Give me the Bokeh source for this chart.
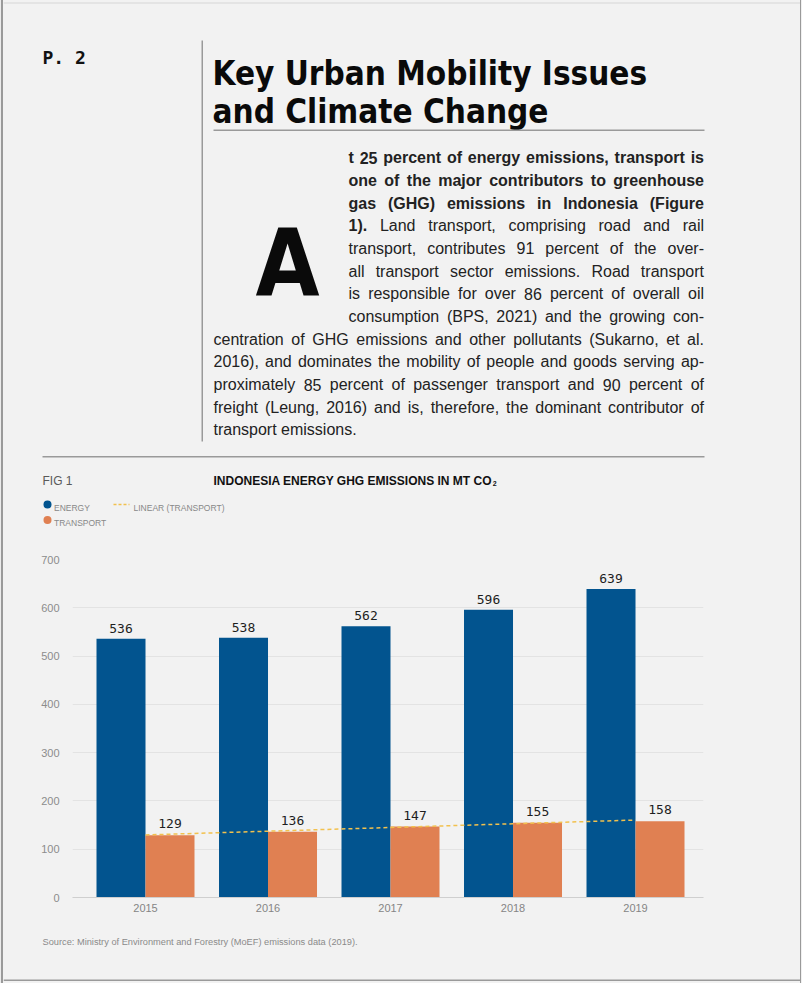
import numpy as np
from bokeh.plotting import figure
from bokeh.models import (ColumnDataSource, Label, LabelSet, BoxAnnotation, Range1d,
                          FixedTicker, Spacer)
from bokeh.layouts import column, row
from bokeh.transform import dodge
from bokeh.core.properties import value
from bokeh.embed import file_html
from bokeh.resources import INLINE

# ---------------- data ----------------
years = ["2015", "2016", "2017", "2018", "2019"]
energy = [536, 538, 562, 596, 639]
transport = [129, 136, 147, 155, 158]
y_ticks = [0, 100, 200, 300, 400, 500, 600, 700]

page_label = "P. 2"
title_lines = ["Key Urban Mobility Issues", "and Climate Change"]
drop_cap = "A"
para_lines = [
    [("t 25 percent of energy emissions, transport is", True)],
    [("one of the major contributors to greenhouse", True)],
    [("gas (GHG) emissions in Indonesia (Figure", True)],
    [("1).", True), ("Land transport, comprising road and rail", False)],
    [("transport, contributes 91 percent of the over-", False)],
    [("all transport sector emissions. Road transport", False)],
    [("is responsible for over 86 percent of overall oil", False)],
    [("consumption (BPS, 2021) and the growing con-", False)],
    [("centration of GHG emissions and other pollutants (Sukarno, et al.", False)],
    [("2016), and dominates the mobility of people and goods serving ap-", False)],
    [("proximately 85 percent of passenger transport and 90 percent of", False)],
    [("freight (Leung, 2016) and is, therefore, the dominant contributor of", False)],
    [("transport emissions.", False)],
]
fig_label = "FIG 1"
chart_title = "INDONESIA ENERGY GHG EMISSIONS IN MT CO"
chart_title_sub = "2"
legend_labels = ["ENERGY", "TRANSPORT", "LINEAR (TRANSPORT)"]
source_text = "Source: Ministry of Environment and Forestry (MoEF) emissions data (2019)."

# ---------------- style ----------------
BG = "#f2f2f2"
BLUE = "#02548f"
ORANGE = "#e08052"
YELLOW = "#f2c14e"
EDGE = "#9a9a9a"
SANS = "Liberation Sans"
MONO = "DejaVu Sans Mono"
DISPLAY = "DejaVu Sans Condensed"
TEXT = "#1e1e1e"

PAGE_W, PAGE_H = 802, 983
LEFT_EDGE, RIGHT_EDGE = 3, 2
INNER_W = PAGE_W - LEFT_EDGE - RIGHT_EDGE
X0, X1 = LEFT_EDGE, PAGE_W - RIGHT_EDGE
HEAD_H, CHART_TOP, CHART_BOT = 540, 540, 925

# Arial / Liberation Sans advance widths (1/1000 em)
REG = {' ': 278, '!': 278, '(': 333, ')': 333, ',': 278, '-': 333, '.': 278, ':': 278}
BOLD = {' ': 278, '!': 333, '(': 333, ')': 333, ',': 278, '-': 333, '.': 278, ':': 333}
for d in "0123456789":
    REG[d] = 556
    BOLD[d] = 556
REG.update(dict(zip("ABCDEFGHIJKLMNOPQRSTUVWXYZ",
                    [667, 667, 722, 722, 667, 611, 778, 722, 278, 500, 667, 556, 833, 722, 778, 667, 778, 722, 667, 611, 722, 667, 944, 667, 667, 611])))
REG.update(dict(zip("abcdefghijklmnopqrstuvwxyz",
                    [556, 556, 500, 556, 556, 278, 556, 556, 222, 222, 500, 222, 833, 556, 556, 556, 556, 333, 500, 278, 556, 500, 722, 500, 500, 500])))
BOLD.update(dict(zip("ABCDEFGHIJKLMNOPQRSTUVWXYZ",
                     [722, 722, 722, 722, 667, 611, 778, 722, 278, 556, 722, 611, 833, 722, 778, 667, 778, 722, 667, 611, 722, 667, 944, 667, 667, 611])))
BOLD.update(dict(zip("abcdefghijklmnopqrstuvwxyz",
                     [556, 611, 556, 611, 556, 333, 611, 611, 278, 278, 556, 278, 889, 611, 611, 611, 611, 389, 556, 333, 611, 556, 778, 556, 556, 500])))


def em_width(s, bold=False):
    t = BOLD if bold else REG
    return sum(t.get(c, 556) for c in s) / 1000.0


def page_fig(y_top, y_bot):
    f = figure(width=INNER_W, height=y_bot - y_top, output_backend="svg", toolbar_location=None,
               x_range=Range1d(X0, X1), y_range=Range1d(y_bot, y_top),
               x_axis_type=None, y_axis_type=None, min_border=0, frame_align=False,
               background_fill_color=BG, border_fill_color=BG, outline_line_color=None)
    f.xgrid.visible = False
    f.ygrid.visible = False
    return f


def label(f, px, py, text, font=SANS, size=12, bold=False, color=TEXT, align="left"):
    f.add_layout(Label(x=px, y=py, text=text, text_font=font, text_font_size=f"{size}px",
                       text_font_style="bold" if bold else "normal",
                       text_color=color, text_align=align, text_baseline="alphabetic"))


def rule(f, x0, x1, y0, y1, color=EDGE):
    f.add_layout(BoxAnnotation(left=x0, right=x1, top=y0, bottom=y1,
                               fill_color=color, fill_alpha=1.0, line_color=None))


# ================= header =================
head = page_fig(0, HEAD_H)
rule(head, X0, X1, 2, 3, color="#d6d6d6")
label(head, 42, 56.7, page_label, font=MONO, size=18, bold=True, color="#111111")
rule(head, 201, 202.5, 40, 441)
label(head, 212, 73, title_lines[0], font=DISPLAY, size=33, bold=True, color="#0a0a0a")
label(head, 212, 110.5, title_lines[1], font=DISPLAY, size=33, bold=True, color="#0a0a0a")
rule(head, 213, 704, 129, 130.5)
label(head, 255, 263, drop_cap, font=DISPLAY, size=92, bold=True, color="#0a0a0a")

# justified paragraph
INDENT_L, FULL_L, RIGHT = 348, 213, 703.5
BASE0, STEP = 157.3, 22.67
N_INDENT = 8

line_words = []
for segs in para_lines:
    words = []
    for txt, b in segs:
        for w in txt.split(" "):
            words.append((w, b))
    line_words.append(words)

fs = 16.0
for li, words in enumerate(line_words[:-1]):
    left = INDENT_L if li < N_INDENT else FULL_L
    nat = sum(em_width(w, b) for w, b in words) + (len(words) - 1) * 0.278
    fs = min(fs, (RIGHT - left) / nat * 0.995)

for li, words in enumerate(line_words):
    left = INDENT_L if li < N_INDENT else FULL_L
    base = BASE0 + li * STEP
    widths = [em_width(w, b) * fs for w, b in words]
    if li < len(line_words) - 1 and len(words) > 1:
        gap = (RIGHT - left - sum(widths)) / (len(words) - 1)
    else:
        gap = 0.278 * fs
    x = left
    for (w, b), wd in zip(words, widths):
        label(head, x, base, w, size=round(fs, 2), bold=b, color="#222222")
        x += wd + gap

# figure header + legend
rule(head, 42, 704, 455.5, 457)
label(head, 42, 480, fig_label, size=12, color="#5a5a5a")
label(head, 213, 480, chart_title, size=12, bold=True, color="#111111")
label(head, 213 + em_width(chart_title, True) * 12 + 0.5, 483, chart_title_sub, size=7, bold=True, color="#111111")

head.scatter(x=[47], y=[504], size=8, fill_color=BLUE, line_color=None)
head.scatter(x=[47], y=[519.5], size=8, fill_color=ORANGE, line_color=None)
head.line(x=[113, 129], y=[504, 504], line_color=YELLOW, line_dash="3 2", line_width=1.5)
label(head, 53.5, 507, legend_labels[0], size=8.5, color="#888888")
label(head, 53.5, 522.5, legend_labels[1], size=8.5, color="#888888")
label(head, 133, 507, legend_labels[2], size=8.5, color="#888888")

# ================= chart =================
idx = list(range(len(years)))
src = ColumnDataSource(dict(
    i=idx, energy=energy, transport=transport,
    energy_txt=[str(v) for v in energy], transport_txt=[str(v) for v in transport],
))

FRAME_L, FRAME_R, FRAME_T, FRAME_B = 72, 703, 559, 897
p = figure(width=INNER_W, height=CHART_BOT - CHART_TOP, output_backend="svg", toolbar_location=None,
           x_range=Range1d(-0.596, 4.555), y_range=Range1d(0, 700), frame_align=False,
           min_border_left=FRAME_L - X0, min_border_right=X1 - FRAME_R,
           min_border_top=FRAME_T - CHART_TOP, min_border_bottom=CHART_BOT - FRAME_B,
           background_fill_color=BG, border_fill_color=BG, outline_line_color=None)

p.vbar(x=dodge("i", -0.2, range=p.x_range), top="energy", width=0.4, bottom=0,
       fill_color=BLUE, line_color=None, source=src)
p.vbar(x=dodge("i", 0.2, range=p.x_range), top="transport", width=0.4, bottom=0,
       fill_color=ORANGE, line_color=None, source=src)

coef = np.polyfit(idx, transport, 1)
trend = np.polyval(coef, idx)
p.line(idx, trend, line_color=YELLOW, line_dash="4 3", line_width=1.5)

p.add_layout(LabelSet(x=dodge("i", -0.2, range=p.x_range), y="energy", text="energy_txt", source=src,
                      y_offset=6, text_align="center", text_baseline="alphabetic",
                      text_font=value(MONO), text_font_size="13px", text_color=TEXT))
p.add_layout(LabelSet(x=dodge("i", 0.2, range=p.x_range), y="transport", text="transport_txt", source=src,
                      y_offset=7, text_align="center", text_baseline="alphabetic",
                      text_font=value(MONO), text_font_size="13px", text_color=TEXT))

p.xaxis.ticker = FixedTicker(ticks=idx)
p.xaxis.major_label_overrides = {i: y for i, y in zip(idx, years)}
p.xaxis.axis_line_color = "#cfcfcf"
p.xaxis.major_tick_line_color = None
p.xaxis.minor_tick_line_color = None
p.xaxis.major_tick_out = 0
p.xaxis.major_tick_in = 0
p.xaxis.major_label_standoff = 6
p.xaxis.major_label_text_font = SANS
p.xaxis.major_label_text_font_size = "11px"
p.xaxis.major_label_text_color = "#858585"

p.yaxis.ticker = FixedTicker(ticks=y_ticks)
p.yaxis.axis_line_color = None
p.yaxis.major_tick_line_color = None
p.yaxis.minor_tick_line_color = None
p.yaxis.major_tick_out = 0
p.yaxis.major_tick_in = 0
p.yaxis.major_label_standoff = 13
p.yaxis.major_label_text_font = SANS
p.yaxis.major_label_text_font_size = "11px"
p.yaxis.major_label_text_color = "#8c8c8c"

p.xgrid.grid_line_color = None
p.ygrid.grid_line_color = "#e3e3e3"

# ================= footer =================
foot = page_fig(CHART_BOT, PAGE_H)
src_size = 315 / em_width(source_text)
label(foot, 42, 941, source_text, size=round(src_size, 2), color="#8a8a8a")
rule(foot, X0, X1, 979, 980.5)

# ================= page edges =================
left_edge = Spacer(width=LEFT_EDGE, height=PAGE_H,
                   styles={"background": "linear-gradient(to right, #ececec 0px, #ececec 1px, #9a9a9a 1px, #9a9a9a 3px)"})
right_edge = Spacer(width=RIGHT_EDGE, height=PAGE_H,
                    styles={"background": "linear-gradient(to right, #9a9a9a 0px, #9a9a9a 1px, #f0f0f0 1px, #f0f0f0 2px)"})

page = row(left_edge, column(head, p, foot, spacing=0, styles={"background-color": BG}),
           right_edge, spacing=0, styles={"background-color": BG})

open("out.html", "w").write(file_html(page, INLINE))
